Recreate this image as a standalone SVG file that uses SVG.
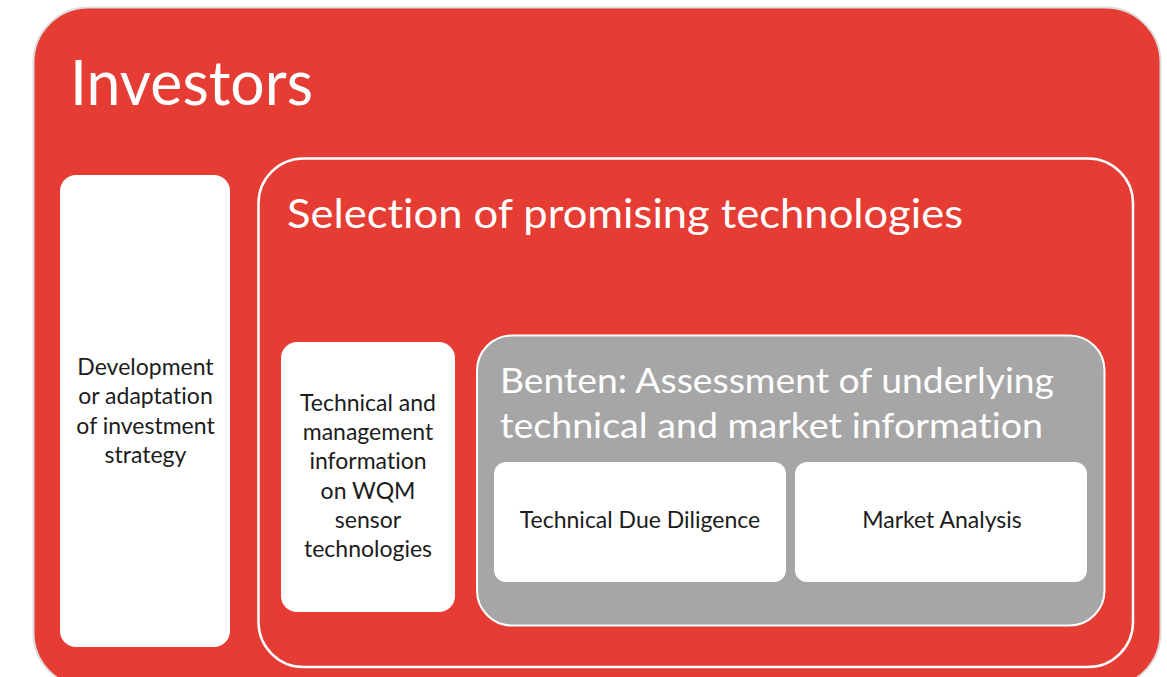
<svg xmlns="http://www.w3.org/2000/svg" width="1167" height="677" viewBox="0 0 1167 677">
<style>
text{font-variant-ligatures:none}
.title{font-family:Lato,"Open Sans","Liberation Sans",sans-serif;fill:#ffffff}
.body{font-family:Lato,"Open Sans","Liberation Sans",sans-serif;fill:#1c1c1c;font-size:23px;text-anchor:middle}
.white{fill:#ffffff}
</style>
<rect x="0" y="0" width="1167" height="677" fill="#ffffff"/>
<g id="investors">
<rect x="33.5" y="7.5" width="1127" height="680" rx="55" ry="55" fill="#E53C33" stroke="#dcdcdc" stroke-width="2"/>
<text class="title" x="70" y="105" font-size="62" textLength="243" lengthAdjust="spacingAndGlyphs">Investors</text>
</g>
<g id="strategy">
<rect x="60" y="175" width="170" height="472" rx="16" ry="16" class="white"/>
<text class="body" x="145.5" y="375">Development</text>
<text class="body" x="145.5" y="404.3">or adaptation</text>
<text class="body" x="145.5" y="433.6">of investment</text>
<text class="body" x="145.5" y="462.9">strategy</text>
</g>
<g id="selection">
<rect x="258.5" y="158.5" width="874.5" height="508.5" rx="45" ry="45" fill="none" stroke="#ffffff" stroke-width="2.5"/>
<text class="title" x="287" y="228" font-size="41" textLength="676" lengthAdjust="spacingAndGlyphs">Selection of promising technologies</text>
</g>
<g id="techinfo">
<rect x="281" y="342" width="174" height="270" rx="16" ry="16" class="white"/>
<text class="body" x="368" y="410.7">Technical and</text>
<text class="body" x="368" y="440">management</text>
<text class="body" x="368" y="469.3">information</text>
<text class="body" x="368" y="498.6">on WQM</text>
<text class="body" x="368" y="527.9">sensor</text>
<text class="body" x="368" y="557.2">technologies</text>
</g>
<g id="benten">
<rect x="477" y="335.5" width="627.5" height="290" rx="35" ry="35" fill="#A6A6A6" stroke="#ffffff" stroke-width="2"/>
<text class="title" x="500" y="393" font-size="35" textLength="554" lengthAdjust="spacingAndGlyphs">Benten: Assessment of underlying</text>
<text class="title" x="500" y="438" font-size="35" textLength="543" lengthAdjust="spacingAndGlyphs">technical and market information</text>
</g>
<g id="tdd">
<rect x="494" y="462" width="292" height="120" rx="12" ry="12" class="white"/>
<text class="body" x="640" y="528">Technical Due Diligence</text>
</g>
<g id="market">
<rect x="795" y="462" width="292" height="120" rx="12" ry="12" class="white"/>
<text class="body" x="942" y="528">Market Analysis</text>
</g>
<g id="connectors"></g>
</svg>
